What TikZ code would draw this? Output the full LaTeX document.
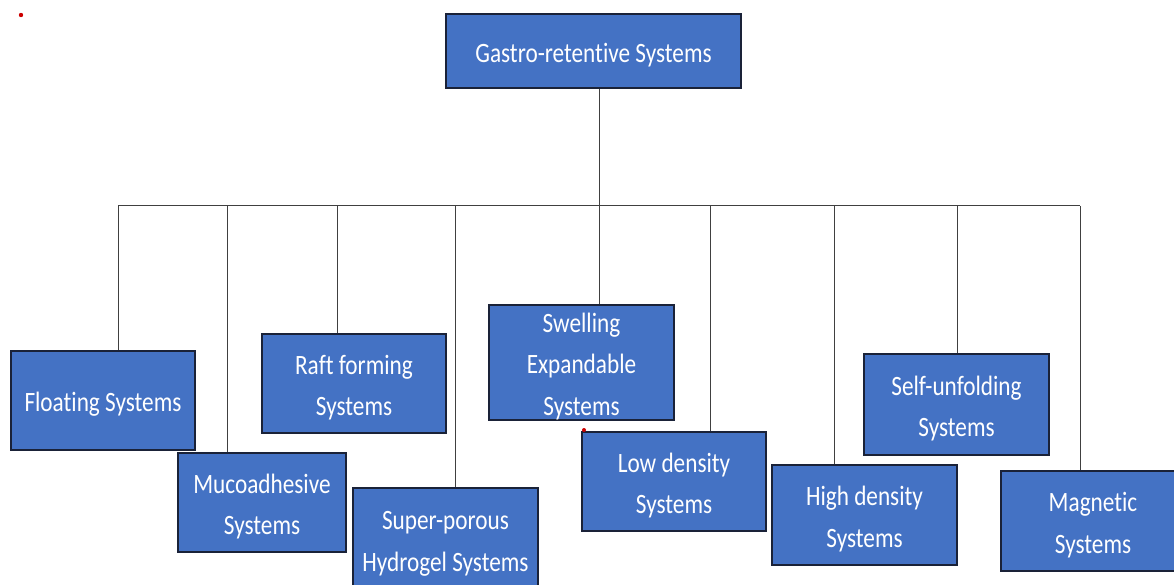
\documentclass[tikz,border=0pt]{standalone}
\usepackage{fontspec}
\newfontfamily\boxfont[FakeStretch=0.83,Ligatures=NoCommon]{Carlito}
\definecolor{boxblue}{HTML}{4472C4}
\definecolor{boxline}{HTML}{1A2238}
\definecolor{conn}{HTML}{404040}
\begin{document}
\begin{tikzpicture}[x=1pt,y=-1pt,
  box/.style={draw=boxline, fill=boxblue, line width=2pt, inner sep=0pt},
  boxtext/.style={text=white, font=\boxfont\fontsize{28}{41.5}\selectfont,
    align=center, inner sep=0pt, yshift=-4pt},
  conn/.style={draw=conn, line width=1pt}]
\useasboundingbox (0,0) rectangle (1174,585);
\fill[white] (0,0) rectangle (1174,585);
\coordinate (bar1) at (118,206);
\coordinate (bar2) at (227,206);
\coordinate (bar3) at (337,206);
\coordinate (bar4) at (455,206);
\coordinate (bar5) at (599,206);
\coordinate (bar6) at (710,206);
\coordinate (bar7) at (834,206);
\coordinate (bar8) at (957,206);
\coordinate (bar9) at (1080,206);
% boxes
\node[box, minimum width=295, minimum height=74,
  label={[boxtext]center:Gastro-retentive Systems}] (top) at (593.5,51) {};
\node[box, minimum width=184, minimum height=99,
  label={[boxtext]center:Floating Systems}] (float) at (103,400.5) {};
\node[box, minimum width=168, minimum height=99,
  label={[boxtext]center:Mucoadhesive\\Systems}] (muco) at (262,502.5) {};
\node[box, minimum width=184, minimum height=99,
  label={[boxtext]center:Raft forming\\Systems}] (raft) at (354,383.5) {};
\node[box, minimum width=185, minimum height=104,
  label={[boxtext]center:Super-porous\\Hydrogel Systems}] (super) at (445.5,540) {};
\node[box, minimum width=185, minimum height=115,
  label={[boxtext]center:Swelling\\Expandable\\Systems}] (swell) at (581.5,362.5) {};
\node[box, minimum width=184, minimum height=99,
  label={[boxtext]center:Low density\\Systems}] (low) at (674,481.5) {};
\node[box, minimum width=185, minimum height=100,
  label={[boxtext]center:High density\\Systems}] (high) at (864.5,515) {};
\node[box, minimum width=185, minimum height=101,
  label={[boxtext]center:Self-unfolding\\Systems}] (self) at (956.5,404.5) {};
\node[box, minimum width=184, minimum height=100,
  label={[boxtext]center:Magnetic\\Systems}] (mag) at (1093,521) {};
% connectors
\draw[conn] (top.south -| bar5) -- (bar5);
\draw[conn] (bar1) -- (bar9);
\draw[conn] (bar1) -- (bar1 |- float.north);
\draw[conn] (bar2) -- (bar2 |- muco.north);
\draw[conn] (bar3) -- (bar3 |- raft.north);
\draw[conn] (bar4) -- (bar4 |- super.north);
\draw[conn] (bar5) -- (bar5 |- swell.north);
\draw[conn] (bar6) -- (bar6 |- low.north);
\draw[conn] (bar7) -- (bar7 |- high.north);
\draw[conn] (bar8) -- (bar8 |- self.north);
\draw[conn] (bar9) -- (bar9 |- mag.north);
% stray red marks
\fill[red!80!black] (21,15) circle (2.2);
\fill[red!80!black] (584,430) circle (2);
\end{tikzpicture}
\end{document}
